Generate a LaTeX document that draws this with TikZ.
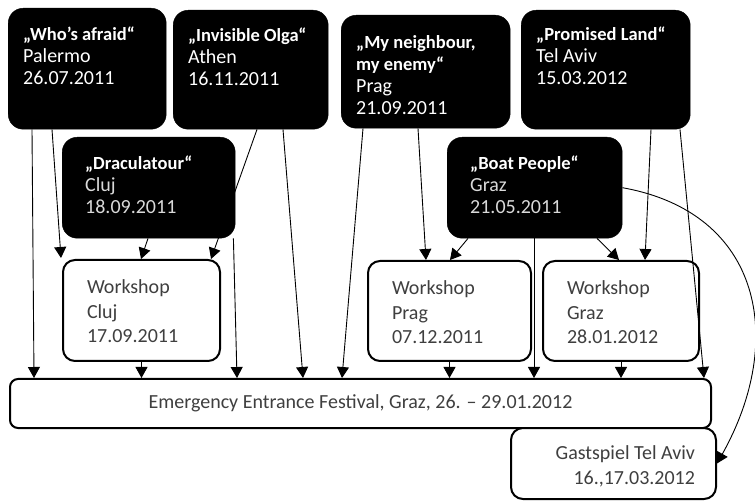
\documentclass[tikz,border=0pt]{standalone}
\usepackage{fontspec}
\setmainfont{Carlito}
\usetikzlibrary{arrows.meta}

\definecolor{softgray}{HTML}{D9D9D9}
\definecolor{inkgray}{HTML}{3F3F3F}

% top aligned text block inside a card
\newcommand{\cardtext}[3]{\parbox[t][#2pt][t]{#1pt}{\raggedright #3}}
\newcommand{\cardtitle}[1]{{\fontsize{18.5}{22}\selectfont\bfseries #1}}

\tikzset{
  darkcard/.style={fill=black, draw=black, rounded corners=15pt, anchor=north west,
    text=white, inner xsep=15pt, inner ysep=19pt, font=\fontsize{20}{22}\selectfont},
  card/.style={draw, fill=white, line width=2pt, rounded corners=12pt, anchor=north west,
    text=inkgray, inner xsep=24pt, inner ysep=20pt, font=\fontsize{20}{24.5}\selectfont},
  link/.style={-{Triangle[length=11pt,width=12pt]}, line width=0.9pt},
}

\begin{document}
\begin{tikzpicture}[x=1pt, y=-1pt]
\useasboundingbox (0,0) rectangle (755,502);
% productions
\node[darkcard] (who) at (8,8) {\cardtext{128}{83}{\cardtitle{„Who’s afraid“}\\ Palermo\\ 26.07.2011}};
\node[darkcard, inner ysep=18pt] (olga) at (173,10) {\cardtext{125}{83}{\cardtitle{„Invisible Olga“}\\ Athen\\ 16.11.2011}};
\node[darkcard, inner ysep=20pt] (neigh) at (341,15) {\cardtext{139}{73}{\cardtitle{„My neighbour,\\ my enemy“}\\ Prag\\ 21.09.2011}};
\node[darkcard, inner ysep=17pt] (promised) at (521,10) {\cardtext{139}{85}{\cardtitle{„Promised Land“}\\ Tel Aviv\\ 15.03.2012}};
% workshops and festival
\node[card] (wcluj) at (62,259) {\cardtext{109}{61}{Workshop\\ Cluj\\ 17.09.2011}};
\node[card] (wprag) at (367,260) {\cardtext{115}{60}{Workshop\\ Prag\\ 07.12.2011}};
\node[card] (wgraz) at (542,260) {\cardtext{108}{60}{Workshop\\ Graz\\ 28.01.2012}};
\node[card, rounded corners=8pt, inner sep=0pt, minimum width=701pt, minimum height=49pt] (fest) at (9,378)
  {Emergency Entrance Festival, Graz, 26. – 29.01.2012};
\node[card, inner xsep=21pt, inner ysep=18pt, font=\fontsize{20}{25}\selectfont] (gast) at (510,427)
  {\cardtext{163}{35}{\raggedleft Gastspiel Tel Aviv\\ 16.,17.03.2012}};
% runs behind Draculatour
\draw[link] ([shift={(84,0)}]olga.south west) -- ([shift={(-10,0)}]wcluj.north east);
\node[darkcard, inner xsep=23pt] (dracula) at (62,137)
  {\cardtext{127}{63}{\cardtitle{„Draculatour“}\\ \color{softgray}Cluj\\ 18.09.2011}};
\node[darkcard, inner xsep=23pt] (boat) at (447,137)
  {\cardtext{129}{63}{\cardtitle{„Boat People“}\\ \color{softgray}Graz\\ 21.05.2011}};
% connections
\draw[link] ([shift={(24,0)}]who.south west) -- ([shift={(25,0)}]fest.north west);
\draw[link] ([shift={(44,0)}]who.south west) -- ([shift={(-1,-1)}]wcluj.north west);
\draw[link] ([shift={(86,0)}]dracula.south west) -- ([shift={(79,0)}]wcluj.north west);
\draw[link] ([shift={(-2,0)}]dracula.south east) -- ([shift={(228,0)}]fest.north west);
\draw[link] ([shift={(110,0)}]olga.south west) -- ([shift={(294,0)}]fest.north west);
\draw[link] ([shift={(22,0)}]neigh.south west) -- ([shift={(333,0)}]fest.north west);
\draw[link] ([shift={(77,0)}]neigh.south west) -- ([shift={(59,0)}]wprag.north west);
\draw[link] ([shift={(21,0)}]boat.south west) -- ([shift={(83,0)}]wprag.north west);
\draw[link] ([shift={(87,0)}]boat.south west) -- ([shift={(525,0)}]fest.north west);
\draw[link] ([shift={(150,0)}]boat.south west) -- ([shift={(77,0)}]wgraz.north west);
\draw[link] ([shift={(130,0)}]promised.south west) -- ([shift={(103,0)}]wgraz.north west);
\draw[link] ([shift={(159,0)}]promised.south west) -- ([shift={(695,0)}]fest.north west);
\draw[link] (wcluj.south) -- (wcluj.south |- fest.north);
\draw[link] (wprag.south) -- (wprag.south |- fest.north);
\draw[link] (wgraz.south) -- (wgraz.south |- fest.north);
\draw[link] (boat.east) .. controls +(140,25) and +(69,-123) .. (gast.east);
\end{tikzpicture}
\end{document}
